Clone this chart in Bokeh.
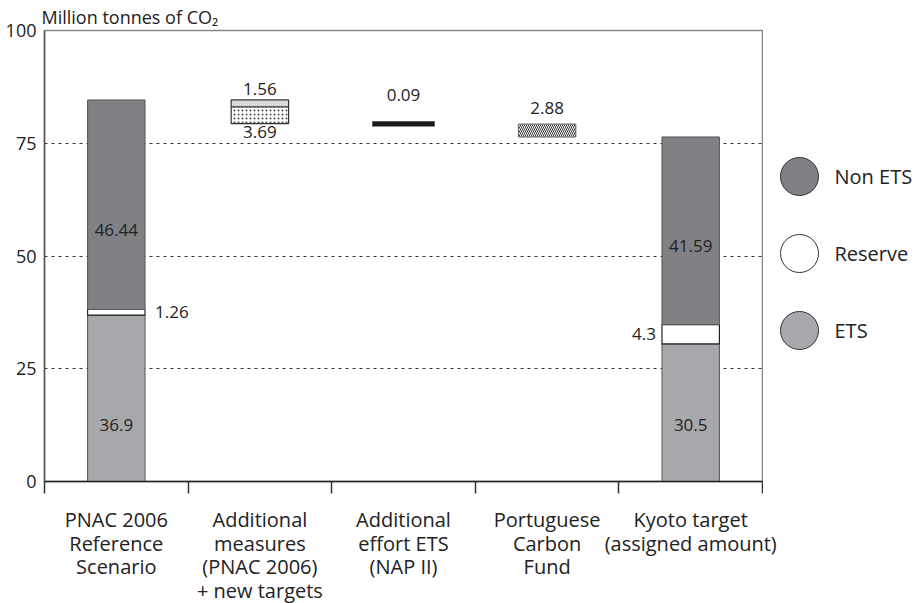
from bokeh.plotting import figure
from bokeh.models import Range1d, FixedTicker, ColumnDataSource
from bokeh.layouts import row, column
from bokeh.embed import file_html
from bokeh.resources import INLINE
from bokeh.core.properties import value

# ---------------- data ----------------
categories = [
    "PNAC 2006\nReference\nScenario",
    "Additional\nmeasures\n(PNAC 2006)\n+ new targets",
    "Additional\neffort ETS\n(NAP II)",
    "Portuguese\nCarbon\nFund",
    "Kyoto target\n(assigned amount)",
]
stack_idx = [0, 4]            # categories drawn as stacked bars
ets = [36.9, 30.5]
reserve = [1.26, 4.3]
non_ets = [46.44, 41.59]
measures_current = 1.56       # additional measures (PNAC 2006)
measures_new = 3.69           # new targets
nap_effort = 0.09             # additional effort ETS (NAP II)
carbon_fund = 2.88            # Portuguese Carbon Fund
y_ticks = [0, 25, 50, 75, 100]
legend_labels = ["Non ETS", "Reserve", "ETS"]

# ---------------- styles ----------------
C_NON = "#808184"
C_ETS = "#a7a8ab"
C_RES = "#ffffff"
EDGE = "#555555"
FONT = "Open Sans"
TXT = "#222222"
BW = 0.4
FW, FH = 718, 451     # plot frame size
LW = 155              # legend panel width
LABH = 108            # category label panel height
BL = 44               # left border
BT = 30               # top border (title)

p = figure(frame_width=FW, frame_height=FH, x_range=Range1d(0, 5), y_range=Range1d(0, 100),
           output_backend="svg", toolbar_location=None,
           min_border_left=BL, min_border_right=1, min_border_top=BT, min_border_bottom=14,
           title="Million tonnes of CO\u2082")
p.title.text_font = FONT
p.title.text_font_size = "18px"
p.title.text_font_style = "normal"
p.title.text_color = TXT
p.title.offset = -3
p.title.standoff = 3
p.title.vertical_align = "bottom"

p.outline_line_color = "#888888"
p.outline_line_width = 1.5
p.background_fill_color = "white"
p.border_fill_color = "white"

# grid
p.xgrid.visible = False
p.ygrid.ticker = FixedTicker(ticks=y_ticks[1:-1])
p.ygrid.grid_line_color = "#333333"
p.ygrid.grid_line_dash = "3 4"
p.ygrid.grid_line_width = 1

# y axis
p.yaxis.ticker = FixedTicker(ticks=y_ticks)
p.yaxis.major_tick_out = 0
p.yaxis.major_tick_in = 0
p.yaxis.minor_tick_out = 0
p.yaxis.minor_tick_in = 0
p.yaxis.axis_line_color = "#555555"
p.yaxis.axis_line_width = 1.5
p.yaxis.major_label_text_font = FONT
p.yaxis.major_label_text_font_size = "18px"
p.yaxis.major_label_text_color = TXT
p.yaxis.major_label_standoff = 8

# x axis: ticks at category boundaries; labels drawn in the panel below
centres = [i + 0.5 for i in range(len(categories))]
bounds = list(range(len(categories) + 1))
p.xaxis.ticker = FixedTicker(ticks=[], minor_ticks=bounds)
p.xaxis.major_tick_out = 0
p.xaxis.major_tick_in = 0
p.xaxis.minor_tick_out = 12
p.xaxis.minor_tick_in = 0
p.xaxis.minor_tick_line_color = "#333333"
p.xaxis.minor_tick_line_width = 1.5
p.xaxis.axis_line_color = "#222222"
p.xaxis.axis_line_width = 1.5

# stacked bars
xs = [centres[i] for i in stack_idx]
res_top = [e + r for e, r in zip(ets, reserve)]
tot = [rt + n for rt, n in zip(res_top, non_ets)]
src = ColumnDataSource(dict(
    l=[x - BW / 2 for x in xs], r=[x + BW / 2 for x in xs],
    ets=ets, res_top=res_top, tot=tot, zero=[0] * len(xs)))
p.quad(left="l", right="r", bottom="zero", top="ets", source=src,
       fill_color=C_ETS, line_color=EDGE, line_width=1)
p.quad(left="l", right="r", bottom="ets", top="res_top", source=src,
       fill_color=C_RES, line_color="#222222", line_width=1.2)
p.quad(left="l", right="r", bottom="res_top", top="tot", source=src,
       fill_color=C_NON, line_color=EDGE, line_width=1)

# waterfall steps
start = tot[0]
m1_bot = start - measures_current
m2_bot = m1_bot - measures_new
nap_bot = m2_bot - nap_effort
fund_bot = nap_bot - carbon_fund

cx1 = centres[1]
p.quad(left=cx1 - BW / 2, right=cx1 + BW / 2, bottom=m1_bot, top=start,
       fill_color="#d9d9d9", line_color="#333333", line_width=1.2)
p.quad(left=cx1 - BW / 2, right=cx1 + BW / 2, bottom=m2_bot, top=m1_bot,
       fill_color="white", hatch_pattern=".", hatch_color="#444444",
       hatch_scale=4, hatch_weight=1, line_color="#333333", line_width=1.2)

cx2 = centres[2]
p.quad(left=cx2 - BW / 2, right=cx2 + BW / 2, bottom=nap_bot, top=m2_bot,
       fill_color="#1a1a1a", line_color="#1a1a1a", line_width=5, line_join="miter")

cx3 = centres[3]
p.quad(left=cx3 - BW / 2, right=cx3 + BW / 2, bottom=fund_bot, top=nap_bot,
       fill_color="white", hatch_pattern="\\", hatch_color="#333333",
       hatch_scale=4, hatch_weight=1, line_color="#666666", line_width=1)

# value labels
def lab(x, y, t, align="center", base="middle", xo=0, yo=0):
    p.text(x=[x], y=[y], text=[t], text_align=align, text_baseline=base,
           x_offset=xo, y_offset=yo, text_font=value(FONT),
           text_font_size="17px", text_color=TXT)

for k in range(len(xs)):
    lab(xs[k], 0, f"{ets[k]:g}", yo=-57)
    lab(xs[k], res_top[k], f"{non_ets[k]:g}", yo=-79)
lab(xs[0] + BW / 2, (ets[0] + res_top[0]) / 2, f"{reserve[0]:g}", align="left", xo=10)
lab(xs[1] - BW / 2, (ets[1] + res_top[1]) / 2, f"{reserve[1]:g}", align="right", xo=-6)
lab(cx1, start, f"{measures_current:g}", base="bottom", yo=-5)
lab(cx1, m2_bot, f"{measures_new:g}", base="top", yo=2)
lab(cx2, (m2_bot + nap_bot) / 2, f"{nap_effort:g}", base="bottom", yo=-23)
lab(cx3, nap_bot, f"{carbon_fund:g}", base="bottom", yo=-10)

# ---------------- legend panel (frame aligned with the plot frame) ----------------
lg = figure(frame_width=LW, frame_height=FH, x_range=Range1d(0, LW), y_range=Range1d(FH, 0),
            output_backend="svg", toolbar_location=None, min_border=0)
lg.axis.visible = False
lg.grid.visible = False
lg.outline_line_color = None
lg.background_fill_color = "white"
lg.border_fill_color = "white"
leg_colors = [C_NON, C_RES, C_ETS]
ly = [146 + 77 * i for i in range(len(legend_labels))]
lg.scatter(x=[36] * 3, y=ly, size=38, fill_color=leg_colors, line_color="#333333", line_width=1)
lg.text(x=[71] * 3, y=ly, text=legend_labels, text_baseline="middle", text_align="left",
        text_font=value(FONT), text_font_size="20px", text_color=TXT)

# ---------------- category label panel (wider than the plot frame) ----------------
LFW = FW + 1 + LW - 4
unit = FW / 5.0
lf = figure(frame_width=LFW, frame_height=LABH, x_range=Range1d(0, LFW / unit),
            y_range=Range1d(LABH, 0),
            output_backend="svg", toolbar_location=None,
            min_border_left=BL, min_border_right=0, min_border_top=0, min_border_bottom=0)
lf.axis.visible = False
lf.grid.visible = False
lf.outline_line_color = None
lf.background_fill_color = "white"
lf.border_fill_color = "white"
tx, ty, tt = [], [], []
for c, cat in zip(centres, categories):
    for i, line in enumerate(cat.split("\n")):
        tx.append(c)
        ty.append(24 + 23.5 * i)
        tt.append(line)
lf.text(x=tx, y=ty, text=tt, text_align="center", text_baseline="middle",
        text_font=value(FONT), text_font_size="20px", text_color=TXT)

layout = column(row(p, lg), lf)
open("out.html", "w").write(file_html(layout, INLINE))
